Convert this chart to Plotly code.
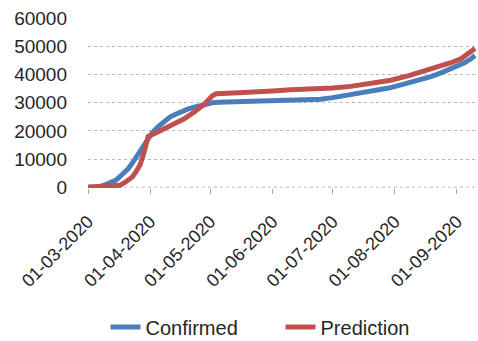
import plotly.graph_objects as go

# Confirmed cases (read at selected dates)
confirmed_dates = [
    "2020-03-01", "2020-03-06", "2020-03-09", "2020-03-12", "2020-03-15",
    "2020-03-18", "2020-03-21", "2020-03-24", "2020-03-27", "2020-03-30",
    "2020-04-02", "2020-04-05", "2020-04-08", "2020-04-11", "2020-04-14",
    "2020-04-17", "2020-04-20", "2020-04-23", "2020-04-26", "2020-04-29",
    "2020-05-02", "2020-05-05", "2020-05-10", "2020-05-20", "2020-05-25",
    "2020-06-01", "2020-06-10", "2020-06-20", "2020-06-25", "2020-07-01",
    "2020-07-08", "2020-07-15", "2020-07-22", "2020-07-29", "2020-08-05",
    "2020-08-12", "2020-08-19", "2020-08-24", "2020-08-29", "2020-09-02",
    "2020-09-05", "2020-09-08", "2020-09-10",
]
confirmed_values = [
    0, 100, 700, 1500, 2500,
    4500, 6500, 9500, 12800, 16200,
    19300, 21500, 23500, 25000, 26000,
    27000, 27800, 28400, 29000, 29600,
    30000, 30200, 30300, 30500, 30800,
    30800, 30900, 30900, 31200, 31800,
    32600, 33300, 34200, 35200, 36500,
    37800, 39300, 40600, 42000, 43200,
    44300, 45600, 46800,
]

# Model prediction (read at selected dates)
prediction_dates = [
    "2020-03-01", "2020-03-12", "2020-03-17", "2020-03-19", "2020-03-21",
    "2020-03-23", "2020-03-25", "2020-03-27", "2020-03-29", "2020-03-31",
    "2020-04-03", "2020-04-08", "2020-04-13", "2020-04-18", "2020-04-23",
    "2020-04-28", "2020-05-02", "2020-05-04", "2020-05-15", "2020-05-20",
    "2020-06-01", "2020-06-10", "2020-06-20", "2020-07-01", "2020-07-10",
    "2020-07-20", "2020-07-30", "2020-08-08", "2020-08-15", "2020-08-22",
    "2020-08-29", "2020-09-03", "2020-09-07", "2020-09-10",
]
prediction_values = [
    0, 200, 700, 1500, 2500,
    3500, 5500, 8000, 12500, 18000,
    19000, 20800, 22600, 24300, 26700,
    29500, 32500, 33200, 33500, 33800,
    34200, 34600, 34800, 35200, 35800,
    36800, 38000, 39600, 41000, 42600,
    44200, 45600, 47500, 49300,
]

month_ticks = ["2020-03-01", "2020-04-01", "2020-05-01", "2020-06-01",
               "2020-07-01", "2020-08-01", "2020-09-01"]
month_labels = ["01-03-2020", "01-04-2020", "01-05-2020", "01-06-2020",
                "01-07-2020", "01-08-2020", "01-09-2020"]
y_ticks = [0, 10000, 20000, 30000, 40000, 50000, 60000]
y_labels = [str(v) for v in y_ticks]

font_family = "Liberation Sans, Arial, sans-serif"
text_color = "#262626"
grid_color = "#b8b8b8"

fig = go.Figure()
fig.add_trace(go.Scatter(
    x=confirmed_dates, y=confirmed_values, mode="lines", name="Confirmed",
    line=dict(color="#4a7ebb", width=5),
))
fig.add_trace(go.Scatter(
    x=prediction_dates, y=prediction_values, mode="lines", name="Prediction",
    line=dict(color="#c0504d", width=5),
))

# dotted baseline along the category axis, drawn beneath the series
fig.add_shape(
    type="line", xref="paper", x0=0, x1=1, yref="y", y0=0, y1=0,
    line=dict(color=grid_color, width=1, dash="dot"), layer="below",
)

fig.update_layout(
    width=478, height=341,
    margin=dict(l=88, r=1, t=18, b=153, autoexpand=False),
    paper_bgcolor="white", plot_bgcolor="white",
    font=dict(family=font_family, color=text_color, size=19),
    showlegend=True,
    legend=dict(
        orientation="h", x=0.045, xanchor="left",
        yref="container", y=0.041, yanchor="middle",
        font=dict(size=20, color=text_color), entrywidth=130,
        bgcolor="rgba(0,0,0,0)",
    ),
)
fig.update_xaxes(
    type="date", range=["2020-03-01", "2020-09-11"],
    tickmode="array", tickvals=month_ticks, ticktext=month_labels,
    tickangle=-45, tickfont=dict(size=18), ticklabelstandoff=10,
    ticks="outside", ticklen=5, tickcolor="#a6a6a6",
    showgrid=False, showline=False, zeroline=False,
)
fig.update_yaxes(
    range=[-300, 60100], tickmode="array", tickvals=y_ticks, ticktext=y_labels,
    showgrid=True, gridcolor=grid_color, griddash="dot", gridwidth=1,
    zeroline=False, showline=False, ticks="", ticklabelstandoff=20,
)

fig.write_html("out.html")
